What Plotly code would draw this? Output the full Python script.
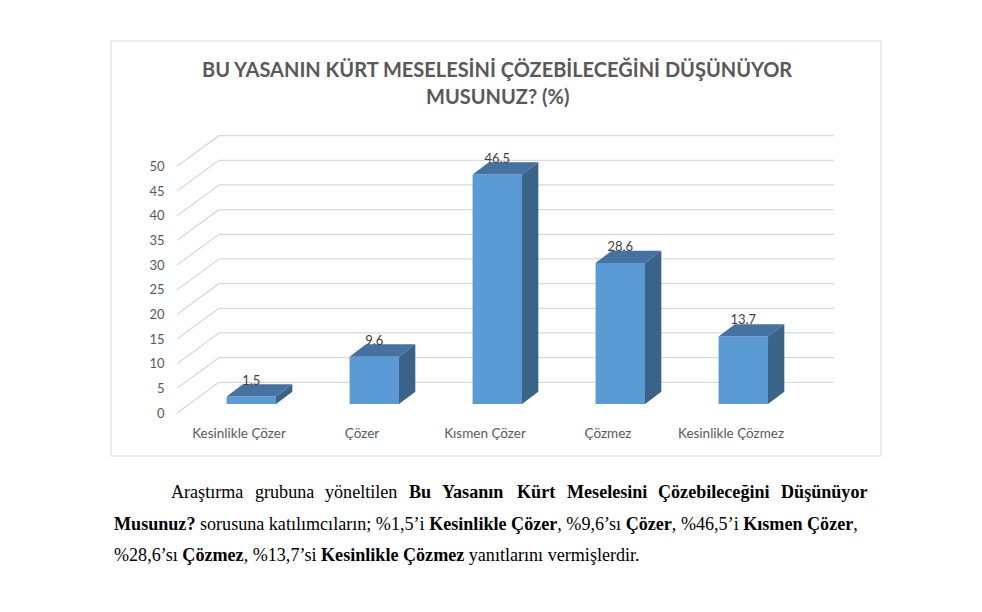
import plotly.graph_objects as go

# data
categories = ["Kesinlikle Çözer", "Çözer", "Kısmen Çözer", "Çözmez", "Kesinlikle Çözmez"]
values = [1.5, 9.6, 46.5, 28.6, 13.7]
y_ticks = [0, 5, 10, 15, 20, 25, 30, 35, 40, 45, 50]

title_lines = ["BU YASANIN KÜRT MESELESİNİ ÇÖZEBİLECEĞİNİ DÜŞÜNÜYOR", "MUSUNUZ? (%)"]

# page size and pixel layout of the chart
W, H = 982, 612
PX_L, PX_R, PX_T, PX_B = 165.5, 860, 118, 423
X0_PX, X_STEP = 251.3, 123.0      # pixel of first category, pixels per category
Y0_PX, Y_UNIT = 404.0, 4.933      # pixel of value 0 (bar front), pixels per unit

# fake 3d geometry (data units)
BAR_W = 0.402
BAR_DX, BAR_DY = 0.1325, 2.49     # depth of the bars
BACK_DY = 4.4                     # back wall offset from bar front plane
FRONT_DY = 1.82                   # floor front edge offset
BACK_X0, BACK_X1 = -0.2626, 4.737
SIDE_X0 = -0.604
LABEL_DX = -0.1                   # category labels sit a bit left of bars

FRONT = "#5B9BD5"
TOP = "#4672A1"
SIDE = "#3A6388"
GRID = "#D9D9D9"

xs = list(range(len(categories)))

fig = go.Figure()

# front faces
fig.add_trace(go.Bar(
    x=xs, y=values, width=BAR_W,
    marker=dict(color=FRONT, line=dict(width=0)),
    hoverinfo="skip", showlegend=False,
))

# top and side faces
for x, v in zip(xs, values):
    l, r = x - BAR_W / 2, x + BAR_W / 2
    fig.add_trace(go.Scatter(
        x=[l, r, r + BAR_DX, l + BAR_DX, l],
        y=[v, v, v + BAR_DY, v + BAR_DY, v],
        fill="toself", fillcolor=TOP, mode="lines",
        line=dict(width=0, color=TOP), hoverinfo="skip", showlegend=False,
    ))
    fig.add_trace(go.Scatter(
        x=[r, r, r + BAR_DX, r + BAR_DX, r],
        y=[0, v, v + BAR_DY, BAR_DY, 0],
        fill="toself", fillcolor=SIDE, mode="lines",
        line=dict(width=0, color=SIDE), hoverinfo="skip", showlegend=False,
    ))

# value labels
fig.add_trace(go.Scatter(
    x=xs, y=[v + BAR_DY + 0.6 for v in values],
    text=[f"{v:.1f}" for v in values], mode="text",
    textfont=dict(family="Lato", size=13, color="#404040"),
    hoverinfo="skip", showlegend=False,
))

# back wall and side wall grid lines
shapes = []
for v in y_ticks:
    shapes.append(dict(type="line", xref="x", yref="y", layer="below",
                       x0=BACK_X0, x1=BACK_X1, y0=v + BACK_DY, y1=v + BACK_DY,
                       line=dict(color=GRID, width=1.3)))
    shapes.append(dict(type="line", xref="x", yref="y", layer="below",
                       x0=SIDE_X0, x1=BACK_X0, y0=v - FRONT_DY, y1=v + BACK_DY,
                       line=dict(color=GRID, width=1.3)))

# chart frame
shapes.append(dict(type="rect", xref="paper", yref="paper",
                   x0=111 / W, x1=881 / W, y0=1 - 456 / H, y1=1 - 41 / H,
                   line=dict(color="#D9D9D9", width=1)))

annotations = []
for i, line in enumerate(title_lines):
    annotations.append(dict(
        text=f"<b>{line}</b>", xref="paper", yref="paper",
        x=497 / W, y=1 - (69 + 27 * i) / H, xanchor="center", yanchor="middle",
        showarrow=False, font=dict(family="Lato", size=20, color="#595959"),
    ))

# paragraph under the chart (first line is justified, so words are placed one by one)
body = dict(family="Liberation Serif", size=18.1, color="black")
line1 = [("Araştırma", 169, False), ("grubuna", 252.7, False), ("yöneltilen", 323.3, False),
         ("Bu", 407, True), ("Yasanın", 440.4, True), ("Kürt", 515.1, True),
         ("Meselesini", 564.6, True), ("Çözebileceğini", 656.3, True), ("Düşünüyor", 779.2, True)]
for word, px, bold in line1:
    annotations.append(dict(
        text=f"<b>{word}</b>" if bold else word, xref="paper", yref="paper",
        x=px / W, y=1 - 492 / H, xanchor="left", yanchor="middle",
        showarrow=False, font=body,
    ))
annotations.append(dict(
    text="<b>Musunuz?</b> sorusuna katılımcıların; %1,5’i <b>Kesinlikle Çözer</b>, "
         "%9,6’sı <b>Çözer</b>, %46,5’i <b>Kısmen Çözer</b>,",
    xref="paper", yref="paper", x=112 / W, y=1 - 523.5 / H,
    xanchor="left", yanchor="middle", showarrow=False, font=body,
))
annotations.append(dict(
    text="%28,6’sı <b>Çözmez</b>, %13,7’si <b>Kesinlikle Çözmez</b> yanıtlarını vermişlerdir.",
    xref="paper", yref="paper", x=112 / W, y=1 - 554.5 / H,
    xanchor="left", yanchor="middle", showarrow=False, font=body,
))

fig.update_layout(
    width=W, height=H,
    margin=dict(l=0, r=0, t=0, b=0),
    paper_bgcolor="white", plot_bgcolor="rgba(0,0,0,0)",
    shapes=shapes, annotations=annotations,
    xaxis=dict(
        domain=[PX_L / W, PX_R / W],
        range=[(PX_L - X0_PX) / X_STEP, (PX_R - X0_PX) / X_STEP],
        tickvals=[x + LABEL_DX for x in xs], ticktext=categories,
        showgrid=False, zeroline=False, showline=False, ticks="",
        tickfont=dict(family="Lato", size=13.5, color="#595959"),
    ),
    yaxis=dict(
        domain=[1 - PX_B / H, 1 - PX_T / H],
        range=[(Y0_PX - PX_B) / Y_UNIT, (Y0_PX - PX_T) / Y_UNIT],
        tickvals=[v - FRONT_DY for v in y_ticks], ticktext=[str(v) for v in y_ticks],
        showgrid=False, zeroline=False, showline=False, ticks="",
        tickfont=dict(family="Lato", size=13, color="#595959"),
    ),
)

# page body has a default 8px margin; drop it so the figure sits at 0,0
fig.write_html("out.html", config={"displayModeBar": False},
               post_script="document.body.style.margin='0px';")
